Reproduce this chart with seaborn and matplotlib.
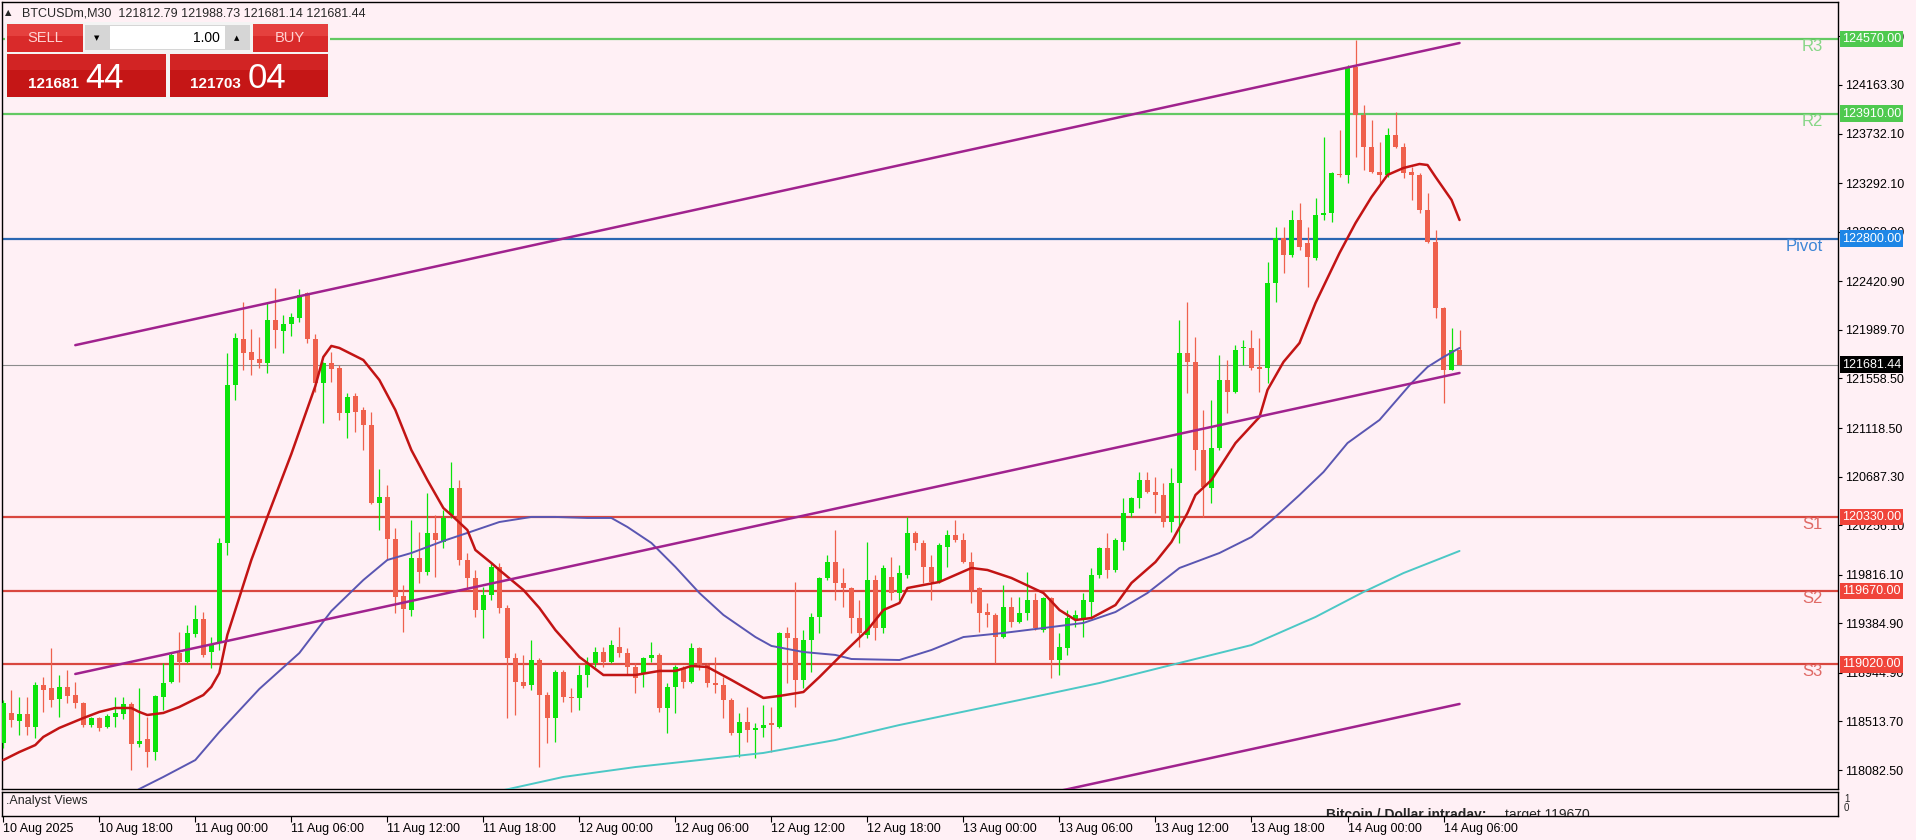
import numpy as np
import pandas as pd
import matplotlib
matplotlib.use('Agg')
import matplotlib.pyplot as plt
import matplotlib.transforms as mtransforms
from matplotlib.patches import Rectangle
import seaborn as sns

# BTCUSDm M30 candles, 10 Aug 12:00 -> 14 Aug 07:00
opens = [118322, 118589, 118518, 118580, 118465, 118837, 118811, 118713, 118820, 118748,
         118677, 118482, 118544, 118465, 118553, 118580, 118669, 118314, 118358, 118242,
         118731, 118864, 119121, 119041, 119290, 119423, 119130, 119210, 120098, 121500,
         121909, 121793, 121731, 121696, 122077, 121980, 122042, 122095, 122317, 121909,
         121518, 121696, 121651, 121252, 121403, 121278, 121145, 120453, 120506, 120133,
         119627, 119503, 119965, 119840, 120187, 120107, 120346, 120586, 119947, 119787,
         119503, 119636, 119885, 119521, 119077, 118864, 118837, 119059, 118748, 118544,
         118953, 118731, 118722, 118926, 119033, 119130, 119041, 119175, 119121, 118997,
         118944, 119077, 119104, 118633, 118820, 118988, 118864, 119166, 119015, 118855,
         118837, 118704, 118411, 118509, 118438, 118456, 118500, 118465, 119299, 119254,
         118882, 119237, 119441, 119787, 119929, 119743, 119698, 119432, 119281, 119769,
         119343, 119796, 119654, 119814, 120187, 120098, 119885, 119752, 120062, 120169,
         120124, 119929, 119698, 119485, 119459, 119263, 119530, 119396, 119476, 119592,
         119325, 119610, 119059, 119166, 119414, 119414, 119574, 119814, 120053, 119858,
         120107, 120364, 120497, 120657, 120551, 120524, 120284, 120630, 121784, 121705,
         120923, 120586, 120941, 121545, 121438, 121829, 121829, 121660, 121651, 122406,
         122805, 122654, 122965, 122761, 122628, 123009, 123027, 123373, 123365, 124323,
         123897, 123613, 123391, 123365, 123720, 123613, 123391, 123365, 123054, 122770,
         122184, 121634, 121812.79]
highs = [118704, 118793, 118731, 118731, 118864, 118908, 119166, 118926, 118970, 118864,
         118686, 118553, 118553, 118580, 118731, 118731, 118686, 118811, 118553, 118748,
         119033, 119121, 119308, 119370, 119547, 119485, 119263, 120142, 121784, 121962,
         122237, 121997, 121926, 122228, 122361, 122122, 122140, 122353, 122326, 121953,
         121705, 121793, 121678, 121429, 121429, 121305, 121261, 120755, 120613, 120231,
         119725, 120302, 120195, 120542, 120346, 120391, 120817, 120657, 120009, 119858,
         119707, 119920, 119920, 119547, 119121, 119104, 119237, 119077, 118775, 118970,
         118970, 118811, 119015, 119086, 119175, 119175, 119237, 119352, 119166, 119033,
         119086, 119219, 119121, 118855, 119015, 119006, 119210, 119175, 119033, 119086,
         118908, 118722, 118589, 118642, 118500, 118660, 118642, 119308, 119352, 119752,
         119325, 119476, 119796, 119991, 120213, 119876, 119707, 119592, 120107, 119814,
         119902, 119974, 119902, 120329, 120204, 120124, 119991, 120098, 120213, 120302,
         120187, 120018, 119707, 119565, 119476, 119725, 119618, 119618, 119840, 119654,
         119618, 119618, 119299, 119503, 119503, 119654, 119876, 120062, 120187, 120142,
         120497, 120506, 120728, 120728, 120684, 120630, 120764, 122077, 122237, 121926,
         121278, 121367, 121767, 121722, 121855, 121900, 121989, 121918, 122592, 122903,
         122903, 123054, 123116, 122903, 123160, 123702, 123391, 123764, 124341, 124563,
         123986, 123853, 123657, 123782, 123924, 123649, 123436, 123382, 123205, 122876,
         122193, 122006, 121988.73]
lows = [118278, 118465, 118393, 118393, 118367, 118598, 118642, 118553, 118677, 118633,
        118465, 118465, 118429, 118456, 118465, 118535, 118083, 118287, 118109, 118171,
        118615, 118855, 118864, 119033, 119263, 119086, 118988, 119148, 119991, 121367,
        121634, 121589, 121651, 121607, 121829, 121784, 121935, 122060, 121873, 121438,
        121163, 121527, 121190, 121030, 121083, 120923, 120440, 120213, 119947, 119476,
        119308, 119450, 119743, 119814, 119796, 120053, 120320, 119902, 119681, 119441,
        119254, 119592, 119476, 118544, 118571, 118811, 118793, 118109, 118322, 118331,
        118686, 118598, 118615, 118820, 118997, 118997, 119033, 119086, 118926, 118766,
        118820, 119041, 118598, 118411, 118589, 118811, 118855, 118970, 118820, 118766,
        118544, 118393, 118198, 118331, 118189, 118376, 118242, 118456, 118855, 118642,
        118811, 118953, 119299, 119769, 119592, 119530, 119299, 119175, 119254, 119237,
        119299, 119592, 119592, 119787, 120036, 119743, 119592, 119743, 119885, 120107,
        119920, 119565, 119308, 119352, 119033, 119254, 119352, 119388, 119414, 119325,
        119308, 118899, 118926, 119104, 119352, 119263, 119441, 119787, 119787, 119840,
        120036, 120329, 120408, 120542, 120364, 120240, 120195, 120098, 121429, 120746,
        120329, 120453, 120923, 121252, 121429, 121678, 121634, 121438, 121518, 122237,
        122495, 122637, 122699, 122370, 122610, 122965, 122947, 123347, 123294, 123524,
        123409, 123382, 123294, 123347, 123604, 123338, 123143, 123027, 122761, 122095,
        121341, 121634, 121681.14]
closes = [118677, 118527, 118580, 118465, 118837, 118793, 118704, 118820, 118740, 118677,
          118482, 118544, 118456, 118562, 118589, 118669, 118314, 118340, 118242, 118740,
          118855, 119104, 119041, 119299, 119423, 119104, 119192, 120098, 121500, 121918,
          121784, 121722, 121696, 122077, 121989, 122042, 122104, 122299, 121909, 121518,
          121696, 121642, 121252, 121394, 121261, 121145, 120453, 120506, 120133, 119618,
          119512, 119965, 119840, 120187, 120124, 120320, 120586, 119947, 119787, 119503,
          119636, 119885, 119521, 119077, 118864, 118828, 119059, 118748, 118544, 118953,
          118731, 118722, 118926, 119015, 119130, 119041, 119192, 119121, 118997, 118899,
          119077, 119104, 118633, 118820, 118997, 118864, 119166, 119015, 118855, 118837,
          118704, 118411, 118509, 118438, 118456, 118482, 118482, 119299, 119254, 118882,
          119237, 119441, 119787, 119929, 119743, 119698, 119432, 119299, 119769, 119343,
          119876, 119654, 119831, 120187, 120098, 119885, 119752, 120080, 120169, 120124,
          119929, 119681, 119476, 119459, 119263, 119530, 119396, 119476, 119592, 119343,
          119610, 119059, 119175, 119432, 119459, 119592, 119814, 120053, 119858, 120124,
          120364, 120497, 120657, 120551, 120524, 120284, 120630, 121784, 121705, 120923,
          120595, 120941, 121545, 121438, 121811, 121838, 121651, 121642, 122406, 122805,
          122654, 122965, 122725, 122637, 123009, 123027, 123382, 123365, 124323, 123897,
          123613, 123391, 123365, 123720, 123613, 123382, 123365, 123054, 122770, 122184,
          121634, 121811, 121681.44]

# moving averages (bar index, price)
ma_fast_idx = [0, 2, 4, 5, 7, 10, 12, 14, 16, 17, 18, 20, 22, 25, 26, 27, 28, 31, 33, 36,
               39, 40, 41, 42, 45, 47, 49, 51, 53, 55, 56, 58, 59, 61, 62, 65, 67, 69, 72, 75,
               79, 82, 84, 86, 88, 91, 95, 97, 100, 102, 105, 108, 110, 112, 113, 117, 121, 123,
               126, 130, 132, 134, 136, 139, 141, 144, 146, 148, 149, 151, 154, 157, 158, 160,
               162, 164, 167, 169, 171, 173, 175, 177, 178, 179, 181, 182]
ma_fast_val = [118171, 118242, 118304, 118376, 118456, 118544, 118598, 118633, 118633, 118598,
               118571, 118589, 118642, 118748, 118820, 118944, 119281, 119947, 120329, 120888,
               121491, 121749, 121847, 121829, 121722, 121545, 121278, 120923, 120657, 120408,
               120346, 120213, 120036, 119920, 119858, 119681, 119521, 119325, 119086, 118926,
               118926, 118962, 118962, 119006, 118997, 118882, 118722, 118740, 118775, 118908,
               119121, 119325, 119503, 119565, 119698, 119752, 119876, 119858, 119787, 119654,
               119503, 119414, 119432, 119547, 119743, 119929, 120107, 120364, 120524, 120657,
               120985, 121216, 121456, 121705, 121873, 122228, 122672, 122938, 123169, 123365,
               123427, 123462, 123453, 123347, 123143, 122965]
ma_mid_idx = [15, 17, 20, 24, 27, 32, 37, 41, 45, 48, 51, 55, 58, 62, 66, 69, 73, 76, 78, 81,
              84, 87, 90, 94, 96, 100, 104, 106, 112, 116, 120, 125, 130, 133, 135, 139, 143,
              147, 152, 156, 159, 162, 165, 168, 172, 176, 178, 180, 182]
ma_mid_val = [117830, 117914, 118021, 118171, 118420, 118802, 119121, 119494, 119769, 119947,
              120009, 120116, 120187, 120284, 120329, 120329, 120320, 120320, 120240, 120098,
              119885, 119654, 119459, 119263, 119184, 119130, 119104, 119068, 119059, 119148,
              119263, 119299, 119343, 119370, 119388, 119485, 119654, 119876, 120009, 120151,
              120329, 120524, 120728, 120985, 121190, 121518, 121660, 121749, 121829]
ma_slow_idx = [61, 70, 79, 87, 95, 104, 112, 127, 137, 147, 156, 164, 170, 175, 182]
ma_slow_val = [117880, 118021, 118109, 118171, 118234, 118349, 118482, 118704, 118855, 119033,
               119192, 119441, 119663, 119831, 120027]

# channel lines (bar index, price)
chan_idx = [9, 182]
chan_upper = [121854, 124536]
chan_lower = [118935, 121607]
chan_bottom = [115997, 118669]

level_names = ['R3', 'R2', 'Pivot', 'S1', 'S2', 'S3']
level_prices = [124570.00, 123910.00, 122800.00, 120330.00, 119670.00, 119020.00]
last_price = 121681.44

ytick_vals = [124594.50, 124163.30, 123732.10, 123292.10, 122860.00, 122420.90, 121989.70,
              121558.50, 121118.50, 120687.30, 120256.10, 119816.10, 119384.90, 118944.90,
              118513.70, 118082.50]
xtick_idx = list(range(0, 181, 12))
xtick_labels = ['10 Aug 2025', '10 Aug 18:00', '11 Aug 00:00', '11 Aug 06:00', '11 Aug 12:00',
                '11 Aug 18:00', '12 Aug 00:00', '12 Aug 06:00', '12 Aug 12:00', '12 Aug 18:00',
                '13 Aug 00:00', '13 Aug 06:00', '13 Aug 12:00', '13 Aug 18:00', '14 Aug 00:00',
                '14 Aug 06:00']

BG = '#FFF0F5'
sns.set_style('white', {'axes.facecolor': BG, 'figure.facecolor': BG, 'axes.edgecolor': 'black'})
plt.rcParams['font.family'] = ['Liberation Sans', 'DejaVu Sans']

W, H = 1916, 840
fig = plt.figure(figsize=(W / 100, H / 100), dpi=100)


def fx(x):
    return x / W


def fy(y):
    return 1 - y / H


ax = fig.add_axes([fx(2), fy(789), (1838 - 2) / W, (789 - 2) / H])
sub = fig.add_axes([fx(2), fy(816), (1838 - 2) / W, (816 - 792) / H])
for a in (ax, sub):
    a.set_facecolor(BG)
    for s in a.spines.values():
        s.set_color('black')
        s.set_linewidth(1)

ax.set_xlim(-0.16, 229.3)
ax.set_ylim(117914, 124900)
sub.set_xlim(-0.16, 229.3)
sub.set_ylim(0, 1)

# candles
df = pd.DataFrame({'o': opens, 'h': highs, 'l': lows, 'c': closes})
df['i'] = np.arange(len(df))
up = df['c'] >= df['o']
UP, DN = '#0BE30B', '#EF614D'
for mask, col in ((up, UP), (~up, DN)):
    d = df[mask]
    ax.vlines(d['i'], d['l'], d['h'], color=col, lw=0.9, zorder=3)
    body = np.maximum((d['c'] - d['o']).abs(), 9)
    ax.bar(d['i'], body, bottom=np.minimum(d['o'], d['c']), width=0.62,
           color=col, edgecolor=col, lw=0, zorder=3)

# horizontal levels
lvl_line = ['#63C963', '#63C963', '#2A67B2', '#D9473F', '#D9473F', '#D9473F']
lvl_text = ['#86D686', '#86D686', '#3D86D6', '#E06A66', '#E06A66', '#E06A66']
lvl_tag = ['#4FC94F', '#4FC94F', '#1E86E6', '#F0443A', '#F0443A', '#F0443A']
ax.axhline(last_price, color='#8C8C8C', lw=0.8, zorder=2)
for name, p, lc, tc in zip(level_names, level_prices, lvl_line, lvl_text):
    ax.axhline(p, color=lc, lw=1.6, zorder=2)
    ax.text((1823 - 2) / 1836, p, name, transform=mtransforms.blended_transform_factory(ax.transAxes, ax.transData),
            ha='right', va='top', fontsize=12, color=tc, zorder=6)

# moving averages and channel
sns.lineplot(x=ma_slow_idx, y=ma_slow_val, ax=ax, color='#4CC8C6', lw=1.4, estimator=None, sort=False, zorder=4)
sns.lineplot(x=ma_mid_idx, y=ma_mid_val, ax=ax, color='#5A56B2', lw=1.4, estimator=None, sort=False, zorder=4)
sns.lineplot(x=ma_fast_idx, y=ma_fast_val, ax=ax, color='#C21414', lw=1.8, estimator=None, sort=False, zorder=4)
for ys in (chan_upper, chan_lower, chan_bottom):
    sns.lineplot(x=chan_idx, y=ys, ax=ax, color='#A0228E', lw=1.8, estimator=None, sort=False, zorder=5)

ax.set_xlabel('')
ax.set_ylabel('')
ax.set_xticks([])
ax.yaxis.tick_right()
ax.set_yticks(ytick_vals)
ax.set_yticklabels(['%.2f' % v for v in ytick_vals])
ax.tick_params(axis='y', which='both', right=True, left=False, length=3, width=0.8,
               pad=2, labelsize=9, colors='black', direction='out')

# price tags on the scale
blend = mtransforms.blended_transform_factory(ax.transAxes, ax.transData)
for p, bc in zip(level_prices, lvl_tag):
    ax.text(1 + 4 / 1836, p, '%.2f' % p, transform=blend, ha='left', va='center', fontsize=9,
            color='white', clip_on=False, zorder=10,
            bbox=dict(boxstyle='square,pad=0.18', fc=bc, ec='none'))
ax.text(1 + 4 / 1836, last_price, '%.2f' % last_price, transform=blend, ha='left', va='center',
        fontsize=9, color='white', clip_on=False, zorder=10,
        bbox=dict(boxstyle='square,pad=0.18', fc='black', ec='none'))

# sub window
sub.set_yticks([])
sub.set_xticks(xtick_idx)
sub.set_xticklabels(xtick_labels)
sub.tick_params(axis='x', bottom=True, length=4, width=0.8, pad=1, labelsize=9, colors='black')
for lbl in sub.get_xticklabels():
    lbl.set_ha('left')
sub.text(0.002, 0.62, '.Analyst Views', transform=sub.transAxes, fontsize=9, va='center', ha='left')
sub.text((1326 - 2) / 1836, 0.05, 'Bitcoin / Dollar intraday:', transform=sub.transAxes, fontsize=10,
         fontweight='bold', va='center', ha='left', clip_on=True)
sub.text((1505 - 2) / 1836, 0.05, 'target 119670', transform=sub.transAxes, fontsize=10,
         va='center', ha='left', clip_on=True)
fig.text(fx(1844), fy(799), '1', fontsize=7, va='center')
fig.text(fx(1844), fy(808), '0', fontsize=7, va='center')

# header
fig.text(fx(5), fy(13), '\u25B2', fontsize=6, va='center', family=['DejaVu Sans'])
fig.text(fx(22), fy(13), 'BTCUSDm,M30  121812.79 121988.73 121681.14 121681.44', fontsize=9, va='center')


# one-click trading panel
def box(x0, y0, x1, y1, color, z=20):
    fig.add_artist(Rectangle((fx(x0), fy(y1)), (x1 - x0) / W, (y1 - y0) / H,
                             transform=fig.transFigure, fc=color, ec='none', zorder=z))


box(5, 22, 330, 99, '#F4F4F4', 19)
box(7, 24, 83, 52, '#D92A2A')
box(7, 24, 83, 36, '#E5403E')
box(253, 24, 328, 52, '#D92A2A')
box(253, 24, 328, 36, '#E5403E')
box(85, 25, 250, 50, '#D6D6D6')
box(110, 26, 225, 49, 'white')
box(7, 54, 166, 97, '#C51616')
box(7, 54, 166, 70, '#D22424')
box(170, 54, 328, 97, '#C51616')
box(170, 54, 328, 70, '#D22424')
fig.text(fx(45), fy(38), 'SELL', fontsize=10.5, color='#FFD2D2', ha='center', va='center', zorder=25)
fig.text(fx(290), fy(38), 'BUY', fontsize=10.5, color='#FFD2D2', ha='center', va='center', zorder=25)
fig.text(fx(220), fy(38), '1.00', fontsize=10, color='black', ha='right', va='center', zorder=25)
fig.text(fx(97), fy(38), '\u25BC', fontsize=5, color='black', ha='center', va='center', zorder=25,
         family=['DejaVu Sans'])
fig.text(fx(237), fy(38), '\u25B2', fontsize=5, color='black', ha='center', va='center', zorder=25,
         family=['DejaVu Sans'])
fig.text(fx(28), fy(88), '121681', fontsize=11, fontweight='bold', color='white', ha='left',
         va='baseline', zorder=25)
fig.text(fx(85), fy(88), '44', fontsize=25, color='white', ha='left', va='baseline', zorder=25)
fig.text(fx(190), fy(88), '121703', fontsize=11, fontweight='bold', color='white', ha='left',
         va='baseline', zorder=25)
fig.text(fx(248), fy(88), '04', fontsize=25, color='white', ha='left', va='baseline', zorder=25)

fig.savefig('out.png', dpi=100, facecolor=BG)
